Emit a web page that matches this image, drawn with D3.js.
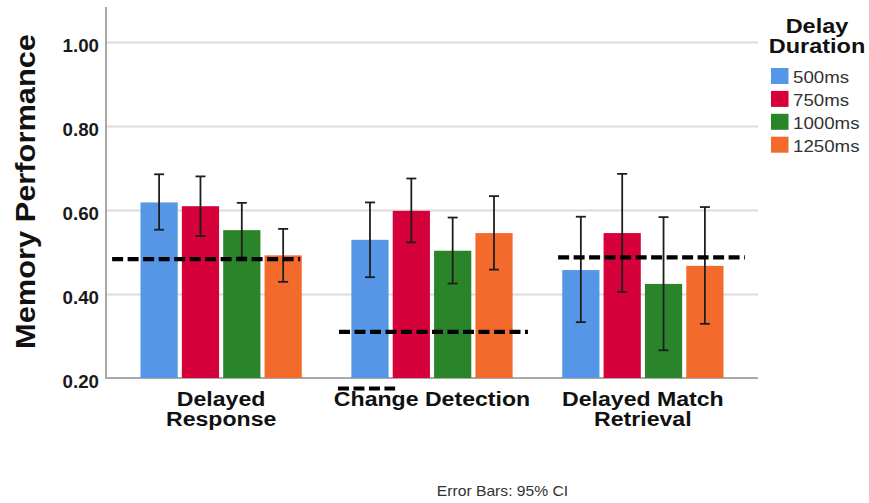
<!DOCTYPE html>
<html>
<head>
<meta charset="utf-8">
<script src="https://cdn.jsdelivr.net/npm/d3@7"></script>
<style>
  html, body { margin: 0; padding: 0; background: #fff; }
  svg { display: block; }
  text { font-family: "Liberation Sans", Arial, sans-serif; }
</style>
</head>
<body>
<svg id="chart" width="869" height="503"></svg>
<script>
// Memory performance by task and delay duration (means with 95% CI)
const categories = ["Delayed Response", "Change Detection", "Delayed Match Retrieval"];
const categoryLines = [["Delayed", "Response"], ["Change Detection"], ["Delayed Match", "Retrieval"]];
const series = ["500ms", "750ms", "1000ms", "1250ms"];
const seriesColors = ["#5596e6", "#d6003a", "#2a842a", "#f36b2c"];

// rows = categories, columns = series
const means = [
  [0.618, 0.609, 0.552, 0.492],
  [0.529, 0.598, 0.503, 0.545],
  [0.457, 0.545, 0.424, 0.467]
];
const ciLow = [
  [0.553, 0.538, 0.487, 0.429],
  [0.440, 0.523, 0.425, 0.458],
  [0.333, 0.405, 0.266, 0.329]
];
const ciHigh = [
  [0.685, 0.680, 0.617, 0.555],
  [0.618, 0.675, 0.582, 0.633],
  [0.584, 0.686, 0.583, 0.607]
];

// Chance-level reference lines per task
const refCategory = ["Delayed Response", "Change Detection", "Delayed Match Retrieval", "Change Detection"];
const refValues = [0.483, 0.310, 0.487, 0.175];

const yTicks = [0.20, 0.40, 0.60, 0.80, 1.00];

// ---- layout ----
const plot = { left: 106, right: 758, top: 7, bottom: 378 };
// horizontal span of each reference line, as fractions of its task band
const refSpan = [[-0.017, 0.875], [0.059, 0.955], [0.098, 0.984], [0.054, 0.325]];
const svg = d3.select("#chart");

const x0 = d3.scaleBand()
  .domain(categories)
  .range([plot.left, plot.right])
  .paddingInner(0)
  .paddingOuter(0.046);

const x1 = d3.scaleBand()
  .domain(series)
  .range([0, x0.bandwidth()])
  .paddingInner(0.1)
  .paddingOuter(0.6);

const y = d3.scaleLinear()
  .domain([0.2, 1.0833])
  .range([plot.bottom, plot.top]);

const color = d3.scaleOrdinal().domain(series).range(seriesColors);

// gridlines
svg.append("g")
  .attr("transform", `translate(${plot.left},0)`)
  .call(d3.axisLeft(y).tickValues(yTicks.filter(v => v > 0.2)).tickSize(-(plot.right - plot.left)).tickFormat(""))
  .call(g => g.select(".domain").remove())
  .call(g => g.selectAll("line").attr("stroke", "#dcdcdc").attr("stroke-width", 2));

// y tick labels
const yAxis = svg.append("g")
  .attr("transform", `translate(${plot.left - 7},0)`)
  .call(d3.axisLeft(y).tickValues(yTicks).tickSize(0).tickPadding(0).tickFormat(d3.format(".2f")));
yAxis.select(".domain").remove();
yAxis.selectAll("text")
  .attr("fill", "#1a1a1a")
  .attr("font-size", 18)
  .attr("font-weight", "bold")
  .attr("dy", null)
  .attr("y", 0)
  .attr("transform", "translate(0,9.5) scale(1.04,1)");

// axis lines
svg.append("line")
  .attr("x1", plot.left).attr("x2", plot.left)
  .attr("y1", plot.top).attr("y2", plot.bottom)
  .attr("stroke", "#a9a9a9").attr("stroke-width", 2);
svg.append("line")
  .attr("x1", plot.left - 1).attr("x2", plot.right)
  .attr("y1", plot.bottom).attr("y2", plot.bottom)
  .attr("stroke", "#a9a9a9").attr("stroke-width", 2);

// bars and error bars
const rows = categories.map((c, i) => ({
  cat: c,
  items: series.map((s, j) => ({ s, m: means[i][j], lo: ciLow[i][j], hi: ciHigh[i][j] }))
}));

const groups = svg.append("g").selectAll("g")
  .data(rows)
  .join("g")
  .attr("transform", d => `translate(${x0(d.cat)},0)`);

groups.selectAll("rect")
  .data(d => d.items)
  .join("rect")
  .attr("x", d => x1(d.s))
  .attr("width", x1.bandwidth())
  .attr("y", d => y(d.m))
  .attr("height", d => y(0.2) - y(d.m))
  .attr("fill", d => color(d.s));

const capHalf = 5;
const eb = groups.selectAll("g.eb")
  .data(d => d.items)
  .join("g")
  .attr("class", "eb")
  .attr("stroke", "#1e1e1e")
  .attr("stroke-width", 1.8);
eb.append("line")
  .attr("x1", d => x1(d.s) + x1.bandwidth() / 2)
  .attr("x2", d => x1(d.s) + x1.bandwidth() / 2)
  .attr("y1", d => y(d.lo)).attr("y2", d => y(d.hi));
eb.append("line")
  .attr("x1", d => x1(d.s) + x1.bandwidth() / 2 - capHalf)
  .attr("x2", d => x1(d.s) + x1.bandwidth() / 2 + capHalf)
  .attr("y1", d => y(d.hi)).attr("y2", d => y(d.hi));
eb.append("line")
  .attr("x1", d => x1(d.s) + x1.bandwidth() / 2 - capHalf)
  .attr("x2", d => x1(d.s) + x1.bandwidth() / 2 + capHalf)
  .attr("y1", d => y(d.lo)).attr("y2", d => y(d.lo));

// category labels, one text element per line
const labelLines = [];
categories.forEach((c, i) => categoryLines[i].forEach((t, k) => labelLines.push({ c, t, k })));
svg.append("g").selectAll("text")
  .data(labelLines)
  .join("text")
  .attr("transform", d => `translate(${x0(d.c) + x0.bandwidth() / 2},${406 + d.k * 19.7}) scale(1.1,1)`)
  .attr("text-anchor", "middle")
  .attr("font-size", 21)
  .attr("font-weight", "bold")
  .attr("fill", "#111")
  .text(d => d.t);

// reference lines
svg.append("g").selectAll("line")
  .data(refValues.map((v, i) => ({ v, cat: refCategory[i], span: refSpan[i] })))
  .join("line")
  .attr("x1", d => x0(d.cat) + d.span[0] * x0.step())
  .attr("x2", d => x0(d.cat) + d.span[1] * x0.step())
  .attr("y1", d => y(d.v)).attr("y2", d => y(d.v))
  .attr("stroke", "#000")
  .attr("stroke-width", 4.2)
  .attr("stroke-dasharray", "11,4.5");

// y axis title
svg.append("text")
  .attr("transform", "translate(35,191.5) rotate(-90) scale(1.12,1)")
  .attr("text-anchor", "middle")
  .attr("font-size", 27.5)
  .attr("font-weight", "bold")
  .attr("fill", "#111")
  .text("Memory Performance");

// legend
const legend = svg.append("g");
legend.selectAll("text.title")
  .data(["Delay", "Duration"])
  .join("text")
  .attr("class", "title")
  .attr("transform", (d, k) => `translate(817,${33.3 + k * 20}) scale(1.12,1)`)
  .attr("text-anchor", "middle")
  .attr("font-size", 21)
  .attr("font-weight", "bold")
  .attr("fill", "#111")
  .text(d => d);

const legendRows = legend.selectAll("g.item")
  .data(series)
  .join("g")
  .attr("class", "item")
  .attr("transform", (d, i) => `translate(771,${68 + i * 22.9})`);
legendRows.append("rect")
  .attr("width", 17.5).attr("height", 16)
  .attr("fill", d => color(d));
legendRows.append("text")
  .attr("transform", "translate(22,15) scale(1.1,1)")
  .attr("font-size", 17)
  .attr("fill", "#333")
  .text(d => d);

// footnote
svg.append("text")
  .attr("transform", "translate(502.5,496) scale(1.08,1)")
  .attr("text-anchor", "middle")
  .attr("font-size", 14.5)
  .attr("fill", "#333")
  .text("Error Bars: 95% CI");
</script>
</body>
</html>
